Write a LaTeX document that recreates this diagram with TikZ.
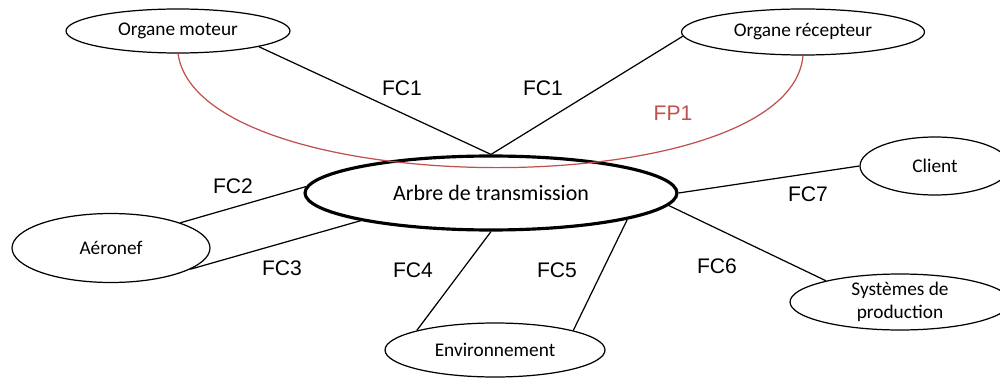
\documentclass[tikz,border=0pt]{standalone}
\usepackage{fontspec}
\setmainfont{Carlito}
\newfontfamily\arialfont{Liberation Sans}
\usetikzlibrary{shapes.geometric}
\definecolor{fpred}{RGB}{192,80,77}
\begin{document}
\begin{tikzpicture}[
        x=0.02cm, y=-0.02cm,
        every node/.style={inner sep=0pt},
        acteur/.style={draw, ellipse, line width=0.7pt, font=\fontsize{11}{13}\selectfont, align=center},
        systeme/.style={acteur, line width=1.8pt, font=\fontsize{12.5}{15}\selectfont},
        lien/.style={draw, line width=0.7pt},
        fc/.style={font=\arialfont\fontsize{12}{14}\selectfont},
        fp/.style={fc, text=fpred}
        ]
    \useasboundingbox (0,0) rectangle (1000,378);
    \node[systeme, minimum width=7.44cm, minimum height=1.48cm] (arbre) at (491,193) {Arbre de transmission};
    \node[acteur, minimum width=4.48cm, minimum height=0.88cm] (moteur) at (178,31) {Organe moteur};
    \node[acteur, minimum width=4.86cm, minimum height=0.92cm] (recepteur) at (803,32) {Organe récepteur};
    \node[acteur, minimum width=3.96cm, minimum height=1.38cm] (aeronef) at (111,248) {Aéronef};
    \node[acteur, minimum width=4.4cm, minimum height=1.08cm] (env) at (495,350) {Environnement};
    \node[acteur, minimum width=3cm, minimum height=1.16cm] (client) at (935,166) {Client};
    \node[acteur, minimum width=4.4cm, minimum height=1.12cm] (prod) at (900,302) {Systèmes de\\production};

    \draw[lien] (moteur.-11) -- (arbre.north);
    \draw[lien] (recepteur.182) -- (arbre.north);
    \draw[lien, draw=fpred] (moteur.south) to[out=-82, in=-95, looseness=0.62] (recepteur.south);
    \draw[lien] (aeronef.20) -- (arbre.178);
    \draw[lien] (aeronef.-15) -- (arbre.192);
    \draw[lien] (arbre.south) -- (env.166);
    \draw[lien] (arbre.-11) -- (env.14);
    \draw[lien] (arbre.-4) -- (prod.164);
    \draw[lien] (arbre.east) -- (client.west);

    \node[fc] (fc1a) at (402,88) {FC1};
    \node[fc] (fc1b) at (543,88) {FC1};
    \node[fp] (fp1) at (673,113) {FP1};
    \node[fc] (fc2) at (233,186) {FC2};
    \node[fc] (fc3) at (282,268) {FC3};
    \node[fc] (fc4) at (413,270) {FC4};
    \node[fc] (fc5) at (557,270) {FC5};
    \node[fc] (fc6) at (717,266) {FC6};
    \node[fc] (fc7) at (808,194) {FC7};
\end{tikzpicture}
\end{document}
